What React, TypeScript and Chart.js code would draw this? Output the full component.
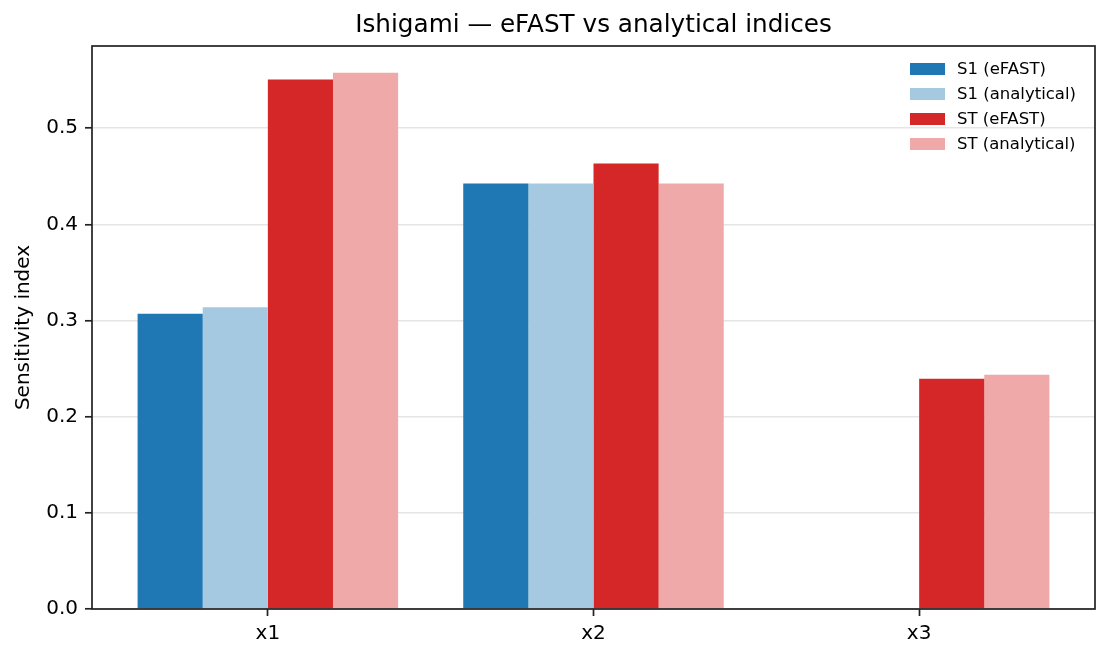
import { useEffect, useRef } from 'react';
import { Chart, registerables } from 'chart.js';

Chart.register(...registerables);

const titleText = 'Ishigami — eFAST vs analytical indices';
const yAxisTitle = 'Sensitivity index';
const categories = ['x1', 'x2', 'x3'];
const seriesLabels = ['S1 (eFAST)', 'S1 (analytical)', 'ST (eFAST)', 'ST (analytical)'];
const seriesColors = ['#1f77b4', '#a5c9e1', '#d62728', '#efa9a9'];
const s1Efast = [0.307, 0.4424, 0.0];
const s1Analytical = [0.3139, 0.4424, 0.0];
const stEfast = [0.5507, 0.4633, 0.2394];
const stAnalytical = [0.5576, 0.4424, 0.2437];
const yMin = 0;
const yMax = 0.5855;
const yStep = 0.1;
const xMin = -0.54;
const xMax = 2.54;

const FONT = 'DejaVu Sans';

export default function App() {
  const ref = useRef<HTMLCanvasElement>(null);

  useEffect(() => {
    document.body.style.margin = '0';
    const canvas = ref.current;
    if (!canvas) return;
    const series = [s1Efast, s1Analytical, stEfast, stAnalytical];

    const decor = {
      id: 'decor',
      afterDraw(chart: any) {
        const { ctx, chartArea: a } = chart;
        ctx.save();
        // frame (spines)
        ctx.strokeStyle = '#222';
        ctx.lineWidth = 1.7;
        ctx.strokeRect(a.left, a.top, a.right - a.left, a.bottom - a.top);
        // title
        ctx.fillStyle = '#000';
        ctx.font = `24.7px "${FONT}"`;
        ctx.textAlign = 'center';
        ctx.textBaseline = 'alphabetic';
        ctx.fillText(titleText, (a.left + a.right) / 2, a.top - 14);
        // legend
        ctx.font = `16.5px "${FONT}"`;
        ctx.textAlign = 'left';
        ctx.textBaseline = 'middle';
        chart.data.datasets.forEach((ds: any, i: number) => {
          const cy = a.top + 23 + 25 * i;
          ctx.fillStyle = ds.backgroundColor;
          ctx.fillRect(a.right - 185, cy - 6, 35, 12);
          ctx.fillStyle = '#000';
          ctx.fillText(ds.label, a.right - 138, cy + 1);
        });
        ctx.restore();
      },
    };

    const chart = new Chart(canvas, {
      type: 'bar',
      data: {
        datasets: series.map((vals, i) => ({
          label: seriesLabels[i],
          data: vals.map((v, j) => ({ x: j, y: v })),
          backgroundColor: seriesColors[i],
          borderWidth: 0,
          categoryPercentage: 0.8,
          barPercentage: 1.0,
        })),
      },
      options: {
        animation: false,
        responsive: false,
        devicePixelRatio: 1,
        layout: { padding: { top: 46, right: 15, left: 0, bottom: 0 } },
        plugins: {
          legend: { display: false },
          title: { display: false },
          tooltip: { enabled: false },
        },
        scales: {
          x: {
            type: 'linear',
            min: xMin,
            max: xMax,
            offset: false,
            afterFit: (s: any) => { s.height = 51; },
            grid: {
              offset: false,
              drawOnChartArea: false,
              drawTicks: true,
              tickLength: 7,
              tickColor: '#222',
              tickWidth: 1.7,
            },
            border: { display: false },
            ticks: {
              stepSize: 1,
              includeBounds: false,
              autoSkip: false,
              maxRotation: 0,
              padding: 6,
              color: '#000',
              font: { family: FONT, size: 20 },
              callback: (v: any) => (Number.isInteger(v) ? categories[v] ?? '' : ''),
            },
          },
          y: {
            type: 'linear',
            min: yMin,
            max: yMax,
            z: 1,
            afterFit: (s: any) => { s.width = 92; },
            grid: {
              color: 'rgba(176,176,176,0.33)',
              lineWidth: 1.6,
              drawTicks: true,
              tickLength: 7,
              tickColor: '#222',
              tickWidth: 1.7,
            },
            border: { display: false },
            title: {
              display: true,
              text: yAxisTitle,
              color: '#000',
              font: { family: FONT, size: 20 },
              padding: { top: 12, bottom: 0 },
            },
            ticks: {
              stepSize: yStep,
              includeBounds: false,
              padding: 7,
              color: '#000',
              font: { family: FONT, size: 20 },
              callback: (v: any) => Number(v).toFixed(1),
            },
          },
        },
      },
      plugins: [decor],
    });
    return () => chart.destroy();
  }, []);

  return (
    <div style={{ width: 1110, height: 660 }}>
      <canvas ref={ref} width={1110} height={660} style={{ display: 'block' }} />
    </div>
  );
}
